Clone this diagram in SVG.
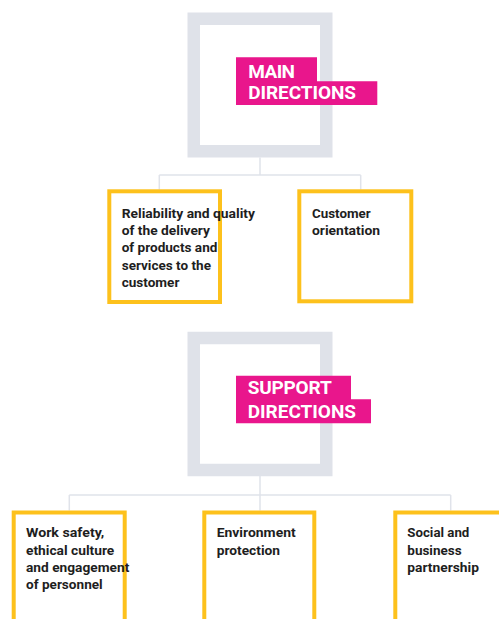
<svg xmlns="http://www.w3.org/2000/svg" width="499" height="619" viewBox="0 0 499 619">
<style>
.frame{fill:none;stroke:#dfe2e9;stroke-width:12.5}
.lbl{fill:#e9168c}
.lt{font-family:Roboto,"Open Sans","Liberation Sans",sans-serif;font-weight:700;font-size:19px;fill:#ffffff}
.box{fill:#ffffff;stroke:#fdc11c;stroke-width:4}
.bt{font-family:Roboto,"Open Sans","Liberation Sans",sans-serif;font-weight:700;font-size:13px;fill:#1e1e1e}
.conn{fill:none;stroke:#e0e3ea;stroke-width:1.5}
</style>
<rect width="499" height="619" fill="#ffffff"/>
<g id="connectors">
<path class="conn" d="M260 157.5V175M159.3 175H360.7M159.3 175V189.5M360.7 175V189.5"/>
<path class="conn" d="M260 476V495M69.3 495H450.7M69.3 495V510.5M260 495V510.5M450.7 495V510.5"/>
</g>
<g id="main-directions">
<rect class="frame" x="193.75" y="18.75" width="132.5" height="132.5"/>
<path class="lbl" d="M236 57.3H317V81.3H377.3V105H236Z"/>
<text class="lt" x="248.3" y="77.7" textLength="46.7" lengthAdjust="spacing">MAIN</text>
<text class="lt" x="248.3" y="99" textLength="107.7" lengthAdjust="spacing">DIRECTIONS</text>
</g>
<g id="reliability">
<rect class="box" x="109.3" y="191.3" width="110.7" height="110.7"/>
<text class="bt" x="121.7" y="217.7" textLength="133.3" lengthAdjust="spacingAndGlyphs">Reliability and quality</text>
<text class="bt" x="121.7" y="235" textLength="88.3" lengthAdjust="spacingAndGlyphs">of the delivery</text>
<text class="bt" x="121.7" y="252.3" textLength="95.7" lengthAdjust="spacingAndGlyphs">of products and</text>
<text class="bt" x="121.7" y="269.7" textLength="89.3" lengthAdjust="spacingAndGlyphs">services to the</text>
<text class="bt" x="121.7" y="287" textLength="57.7" lengthAdjust="spacingAndGlyphs">customer</text>
</g>
<g id="customer-orientation">
<rect class="box" x="299.3" y="191.3" width="112" height="110"/>
<text class="bt" x="312" y="217.7" textLength="58.7" lengthAdjust="spacingAndGlyphs">Customer</text>
<text class="bt" x="312" y="235" textLength="68" lengthAdjust="spacingAndGlyphs">orientation</text>
</g>
<g id="support-directions">
<rect class="frame" x="193.75" y="338" width="132.5" height="132"/>
<path class="lbl" d="M236 375.7H351V399.3H371V423.3H236Z"/>
<text class="lt" x="247.7" y="394" textLength="84" lengthAdjust="spacing">SUPPORT</text>
<text class="lt" x="247.7" y="417.7" textLength="108.3" lengthAdjust="spacing">DIRECTIONS</text>
</g>
<g id="work-safety">
<rect class="box" x="13.7" y="512.5" width="111" height="120"/>
<text class="bt" x="26" y="537.3" textLength="78.3" lengthAdjust="spacingAndGlyphs">Work safety,</text>
<text class="bt" x="26" y="554.7" textLength="88.3" lengthAdjust="spacingAndGlyphs">ethical culture</text>
<text class="bt" x="26" y="572" textLength="103.3" lengthAdjust="spacingAndGlyphs">and engagement</text>
<text class="bt" x="26" y="589.3" textLength="76.7" lengthAdjust="spacingAndGlyphs">of personnel</text>
</g>
<g id="environment">
<rect class="box" x="204.3" y="512.5" width="110" height="120"/>
<text class="bt" x="216.7" y="537.3" textLength="79" lengthAdjust="spacingAndGlyphs">Environment</text>
<text class="bt" x="216.7" y="554.7" textLength="63.3" lengthAdjust="spacingAndGlyphs">protection</text>
</g>
<g id="social">
<rect class="box" x="395.3" y="512.5" width="111" height="120"/>
<text class="bt" x="407.3" y="537.3" textLength="62" lengthAdjust="spacingAndGlyphs">Social and</text>
<text class="bt" x="407.3" y="554.7" textLength="54.3" lengthAdjust="spacingAndGlyphs">business</text>
<text class="bt" x="407.3" y="572" textLength="71.7" lengthAdjust="spacingAndGlyphs">partnership</text>
</g>
</svg>
